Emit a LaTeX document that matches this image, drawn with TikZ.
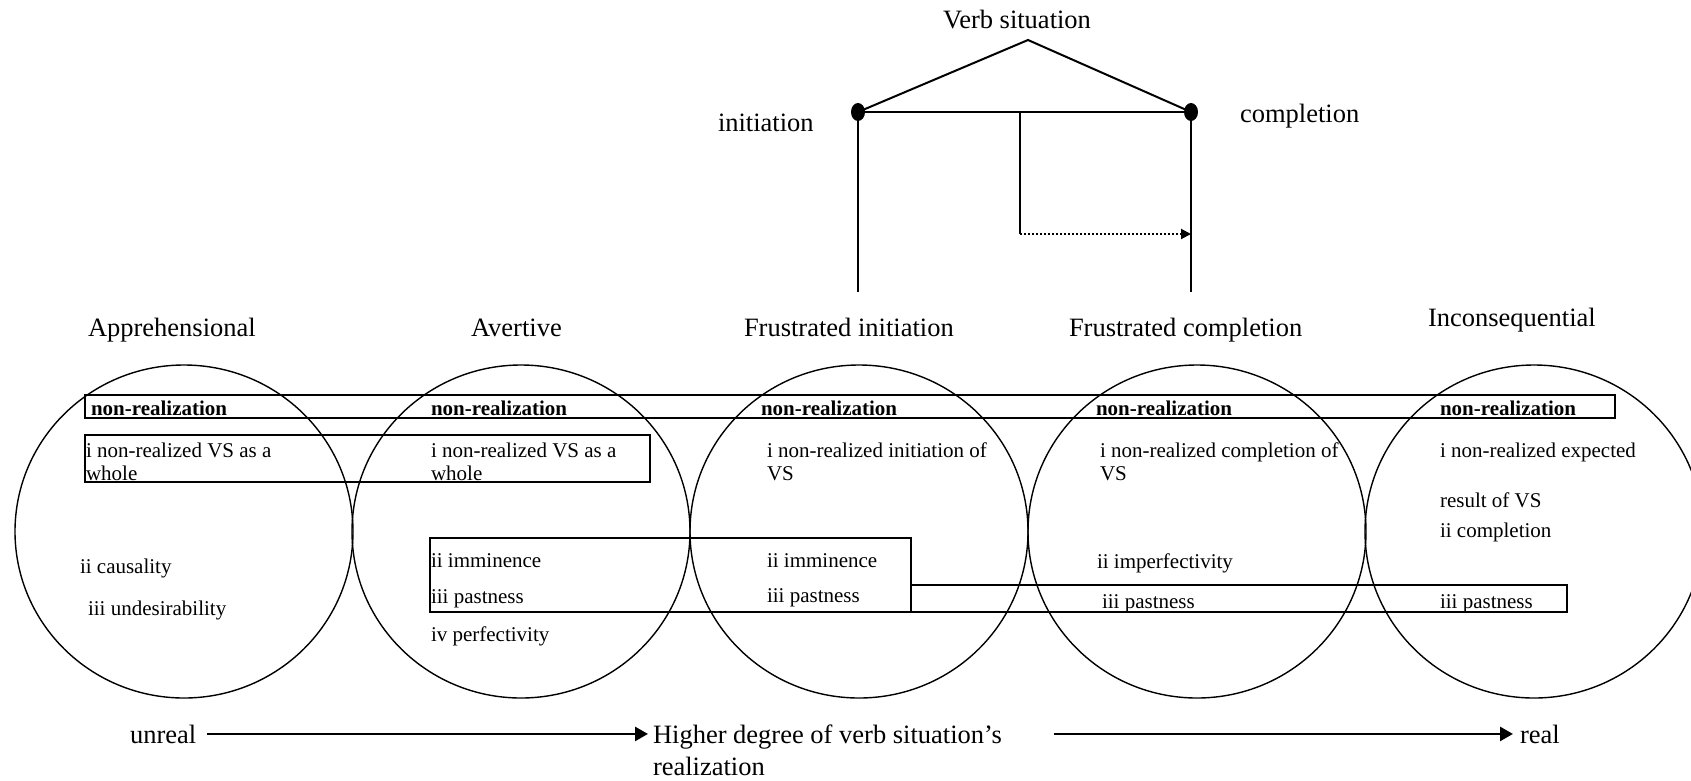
\documentclass[tikz,border=0pt]{standalone}
\usepackage{fontspec}
\setmainfont{Liberation Serif}
\usetikzlibrary{arrows.meta,shapes.geometric}
\begin{document}
\begin{tikzpicture}[x=1pt,y=-1pt,
  every node/.style={inner sep=0pt, outer sep=0pt},
  big/.style={font=\fontsize{26.5}{32}\selectfont, anchor=base west, align=left},
  body/.style={font=\fontsize{21}{23}\selectfont, anchor=base west, align=left},
  nr/.style={font=\fontsize{21}{23}\selectfont\bfseries, anchor=base west},
  ring/.style={draw, ellipse, minimum width=338pt, minimum height=333pt, line width=1.4pt},
  box/.style={draw, line width=2.2pt},
  edge/.style={line width=2pt},
  dot/.style={fill, ellipse, minimum width=14pt, minimum height=18pt},
  arr/.style={line width=2.6pt, -{Triangle[length=13pt,width=14pt]}},
  dotarr/.style={line width=2pt, dotted, -{Triangle[length=10pt,width=10pt]}}
]
\useasboundingbox (0,0) rectangle (1691,780);

% circles
\node[ring] (r1) at (184,531.5) {};
\node[ring] (r2) at (521,531.5) {};
\node[ring] (r3) at (859,531.5) {};
\node[ring] (r4) at (1197,531.5) {};
\node[ring] (r5) at (1534,531.5) {};

% grouping boxes
\draw[box] (85,395) rectangle (1615,418);
\draw[box] (85,435) rectangle (650,482);
\draw[box] (430,538) rectangle (911,612);
\draw[box] (911,585) rectangle (1567,612);

% verb situation scheme
\node[big, anchor=base] (vs) at (1017,28) {Verb situation};
\coordinate (apex) at (1028,40);
\node[dot] (di) at (858,112) {};
\node[dot] (dc) at (1191,112) {};
\coordinate (mid) at (1020,112);
\coordinate (midlow) at (1020,234);
\coordinate (ctarget) at (1191,234);
\coordinate (ibot) at (858,292);
\coordinate (cbot) at (1191,292);
\draw[edge] (di.center) -- (apex) -- (dc.center);
\draw[edge] (di.center) -- (dc.center);
\draw[edge] (di.center) -- (ibot);
\draw[edge] (dc.center) -- (cbot);
\draw[edge] (mid) -- (midlow);
\draw[dotarr] (midlow) -- (ctarget);
\node[big] (ini) at (718,131) {initiation};
\node[big] (com) at (1240,122) {completion};

% titles
\node[big] (app) at (88,336) {Apprehensional};
\node[big] (ave) at (471,336) {Avertive};
\node[big] (fin) at (744,336) {Frustrated initiation};
\node[big] (fco) at (1069,336) {Frustrated completion};
\node[big] (inc) at (1428,326) {Inconsequential};

% non-realization
\node[nr] (n1) at (91,415) {non-realization};
\node[nr] (n2) at (431,415) {non-realization};
\node[nr] (n3) at (761,415) {non-realization};
\node[nr] (n4) at (1096,415) {non-realization};
\node[nr] (n5) at (1440,415) {non-realization};

% first features (base = last line)
\node[body] (t1) at (86,480) {i non-realized VS as a\\whole};
\node[body] (t2) at (431,480) {i non-realized VS as a\\whole};
\node[body] (t3) at (767,480) {i non-realized initiation of\\VS};
\node[body] (t4) at (1100,480) {i non-realized completion of\\VS};
\node[body] (t5) at (1440,457) {i non-realized expected};
\node[body] (t5b) at (1440,507) {result of VS};
\node[body] (t5c) at (1440,537) {ii completion};

% other features
\node[body] (c1a) at (80,573) {ii causality};
\node[body] (c1b) at (88,615) {iii undesirability};
\node[body] (c2a) at (431,567) {ii imminence};
\node[body] (c2b) at (431,603) {iii pastness};
\node[body] (c2c) at (431,641) {iv perfectivity};
\node[body] (c3a) at (767,567) {ii imminence};
\node[body] (c3b) at (767,602) {iii pastness};
\node[body] (c4a) at (1097,568) {ii imperfectivity};
\node[body] (c4b) at (1102,608) {iii pastness};
\node[body] (c5b) at (1440,608) {iii pastness};

% bottom scale
\node[big] (unreal) at (130,743) {unreal};
\node[big] (higher) at (653,775) {Higher degree of verb situation’s\\realization};
\node[big] (real) at (1520,743) {real};
\coordinate (h1) at (higher.west |- unreal.east);
\coordinate (a2s) at (1054,0 |- unreal.east);
\draw[arr] ([xshift=11pt]unreal.east) -- ([xshift=-5pt]h1);
\draw[arr] (a2s) -- ([xshift=-7pt]real.west);
\end{tikzpicture}
\end{document}
